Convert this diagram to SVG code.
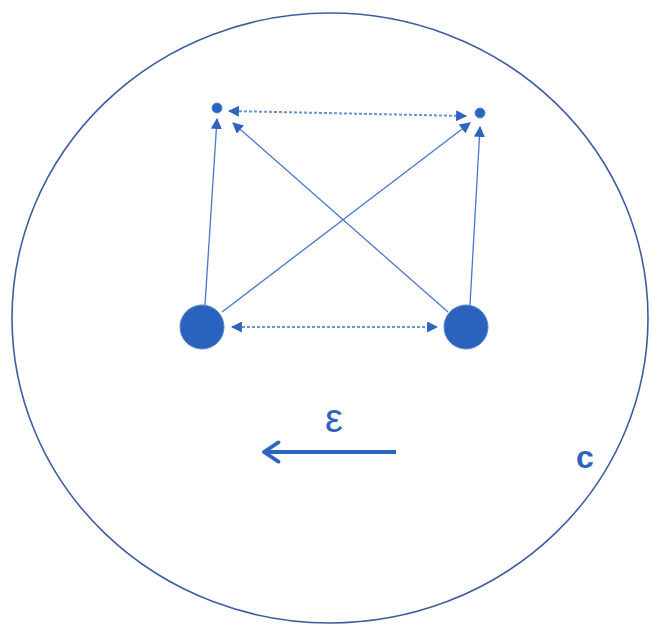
<svg xmlns="http://www.w3.org/2000/svg" width="652" height="630" viewBox="0 0 652 630">
<style>
.node{fill:#2A63BD;stroke:#5A85CC;stroke-width:1}
.ln{stroke:#4A78C8;stroke-width:1.3;fill:none}
.dash{stroke:#6A92D4;stroke-width:2;stroke-dasharray:3 2;fill:none}
.lbl{font-family:"Liberation Sans",Arial,sans-serif;fill:#2E64BE}
</style>
<defs>
<marker id="ah" viewBox="0 0 10 10" refX="9" refY="5" markerWidth="11" markerHeight="11" markerUnits="userSpaceOnUse" orient="auto-start-reverse">
<path d="M0,0 L10,5 L0,10 Z" fill="#2E64BE"/>
</marker>
<marker id="open" viewBox="0 0 10 10" refX="9" refY="5" markerWidth="6" markerHeight="6" orient="auto">
<path d="M3,1 L9,5 L3,9" fill="none" stroke="#2E64BE" stroke-width="1.6" stroke-linecap="round" stroke-linejoin="round"/>
</marker>
</defs>
<rect width="652" height="630" fill="#fff"/>
<ellipse cx="330" cy="318" rx="318" ry="305" fill="none" stroke="#3D5E9E" stroke-width="1.6"/>
<g id="connectors">
<line class="ln" x1="205" y1="305" x2="217" y2="119" marker-end="url(#ah)"/>
<line class="ln" x1="222" y1="312" x2="470" y2="123" marker-end="url(#ah)"/>
<line class="ln" x1="448" y1="312" x2="233" y2="123" marker-end="url(#ah)"/>
<line class="ln" x1="470" y1="305" x2="480" y2="127" marker-end="url(#ah)"/>
<line class="dash" x1="229" y1="111" x2="466" y2="116" marker-start="url(#ah)" marker-end="url(#ah)"/>
<line class="dash" x1="232" y1="327" x2="437" y2="327" marker-start="url(#ah)" marker-end="url(#ah)"/>
<line x1="396" y1="452" x2="264" y2="452" stroke="#2E64BE" stroke-width="4" marker-end="url(#open)"/>
</g>
<g id="n1"><circle class="node" cx="202" cy="327" r="22"/></g>
<g id="n2"><circle class="node" cx="466" cy="327" r="22"/></g>
<g id="n3"><circle class="node" cx="217" cy="108" r="5"/></g>
<g id="n4"><circle class="node" cx="480" cy="113" r="5"/></g>
<text class="lbl" x="334" y="432" font-size="40" text-anchor="middle">ε</text>
<text class="lbl" x="585" y="468" font-size="32" font-weight="bold" text-anchor="middle">c</text>
</svg>
